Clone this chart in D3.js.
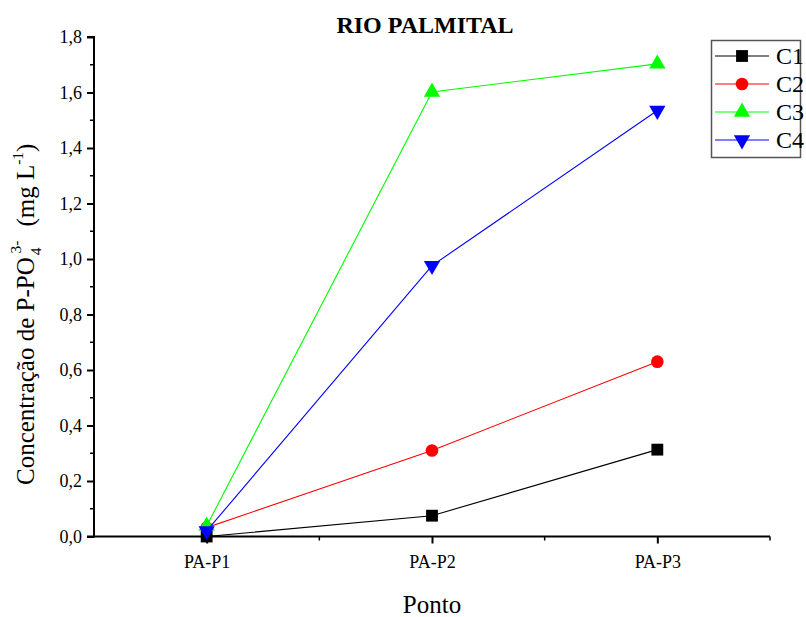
<!DOCTYPE html>
<html lang="pt">
<head>
    <meta charset="UTF-8">
    <title>Rio Palmital</title>
    <script src="https://d3js.org/d3.v7.min.js"></script>
    <style>
        body { margin: 0; background: #fff; }
    </style>
</head>
<body>
    <svg id="chart" width="806" height="617"></svg>
    <script>
        // data
        const pontos = ["PA-P1", "PA-P2", "PA-P3"];
        const c1 = [0.0, 0.075, 0.313];
        const c2 = [0.032, 0.31, 0.63];
        const c3 = [0.038, 1.602, 1.703];
        const c4 = [0.02, 0.976, 1.535];
        const seriesNames = ["C1", "C2", "C3", "C4"];
        const seriesColors = ["#000000", "#ff0000", "#00ff00", "#0000ff"];
        const seriesShapes = ["square", "circle", "triangle", "triangleDown"];
        const yTicks = [0, 0.2, 0.4, 0.6, 0.8, 1.0, 1.2, 1.4, 1.6, 1.8];

        const allSeries = [c1, c2, c3, c4];
        const serif = "'Liberation Serif', 'Times New Roman', 'DejaVu Serif', serif";

        const svg = d3.select("#chart").attr("font-family", serif);
        const mLeft = 94, mRight = 770, mTop = 37, mBottom = 536.5;

        const x = d3.scaleLinear().domain([0.5, 3.5]).range([mLeft, mRight]);
        const y = d3.scaleLinear().domain([0, 1.8]).range([mBottom, mTop]);

        // y axis
        const yAxis = svg.append("g").attr("transform", `translate(${mLeft},0)`)
            .call(d3.axisLeft(y).tickValues(yTicks).tickSize(7).tickPadding(5)
                .tickFormat(d => d3.format(".1f")(d).replace(".", ",")));
        yAxis.append("g").selectAll("line")
            .data(d3.range(0.1, 1.8, 0.2))
            .enter().append("line")
            .attr("x1", 0).attr("x2", -4)
            .attr("y1", d => y(d)).attr("y2", d => y(d))
            .attr("stroke", "#000").attr("stroke-width", 1.5);

        // x axis
        const xAxis = svg.append("g").attr("transform", `translate(0,${mBottom})`)
            .call(d3.axisBottom(x).tickValues([1, 2, 3]).tickSize(7).tickPadding(12)
                .tickFormat((d, i) => pontos[i]));
        xAxis.append("g").selectAll("line")
            .data([1.5, 2.5, 3.5])
            .enter().append("line")
            .attr("x1", d => x(d)).attr("x2", d => x(d))
            .attr("y1", 0).attr("y2", 4)
            .attr("stroke", "#000").attr("stroke-width", 1.5);

        svg.selectAll("g").attr("font-family", serif);
        svg.selectAll(".domain").attr("stroke", "#000").attr("stroke-width", 2);
        yAxis.select(".domain").attr("d", `M-7,${mTop}H0V${mBottom}H-7`);
        xAxis.select(".domain").attr("d", `M${mLeft},0H${mRight}`);
        svg.selectAll(".tick line").attr("stroke", "#000").attr("stroke-width", 2);
        svg.selectAll(".tick text").attr("font-size", 18).attr("fill", "#000");

        // symbol paths
        function marker(shape) {
            if (shape === "square") return d3.symbol(d3.symbolSquare, 140)();
            if (shape === "circle") return d3.symbol(d3.symbolCircle, 125)();
            return d3.symbol(d3.symbolTriangle, 115)();
        }

        const line = d3.line().x((d, i) => x(i + 1)).y(d => y(d));

        allSeries.forEach((s, k) => {
            const g = svg.append("g");
            g.append("path").datum(s)
                .attr("d", line)
                .attr("fill", "none")
                .attr("stroke", seriesColors[k])
                .attr("stroke-width", 1.1);
            g.selectAll("path.m").data(s).enter().append("path")
                .attr("class", "m")
                .attr("d", marker(seriesShapes[k]))
                .attr("transform", (d, i) => `translate(${x(i + 1)},${y(d)})` + (seriesShapes[k] === "triangleDown" ? " rotate(180)" : ""))
                .attr("fill", seriesColors[k]);
        });

        // title
        svg.append("text").attr("x", 425).attr("y", 33)
            .attr("text-anchor", "middle")
            .attr("font-size", 24).attr("font-weight", "bold")
            .text("RIO PALMITAL");

        // x label
        svg.append("text").attr("x", 432).attr("y", 613)
            .attr("text-anchor", "middle").attr("font-size", 25)
            .text("Ponto");

        // y label
        const yl = svg.append("text")
            .attr("transform", "translate(34,485) rotate(-90)")
            .attr("font-size", 25);
        yl.append("tspan").text("Concentração de P-PO");
        yl.append("tspan").attr("dy", 7).attr("dx", 2).attr("font-size", 15.5).text("4");
        yl.append("tspan").attr("dy", -20).attr("dx", -6).attr("font-size", 15.5).text("3-");
        yl.append("tspan").attr("dy", 13).attr("dx", 14).text("(mg L");
        yl.append("tspan").attr("dy", -11).attr("font-size", 15.5).text("-1");
        yl.append("tspan").attr("dy", 11).text(")");

        // legend
        const lg = svg.append("g");
        lg.append("rect").attr("x", 711.5).attr("y", 40.5).attr("width", 89).attr("height", 117)
            .attr("fill", "#fff").attr("stroke", "#555").attr("stroke-width", 1.5);
        seriesNames.forEach((n, k) => {
            const yy = 56 + k * 28;
            lg.append("line").attr("x1", 715).attr("x2", 769).attr("y1", yy).attr("y2", yy)
                .attr("stroke", seriesColors[k]).attr("stroke-width", 1.1);
            lg.append("path").attr("d", marker(seriesShapes[k]))
                .attr("transform", `translate(742,${yy})` + (seriesShapes[k] === "triangleDown" ? " rotate(180)" : ""))
                .attr("fill", seriesColors[k]);
            lg.append("text").attr("x", 776).attr("y", yy + 8)
                .attr("font-size", 24).text(n);
        });
    </script>
</body>
</html>
